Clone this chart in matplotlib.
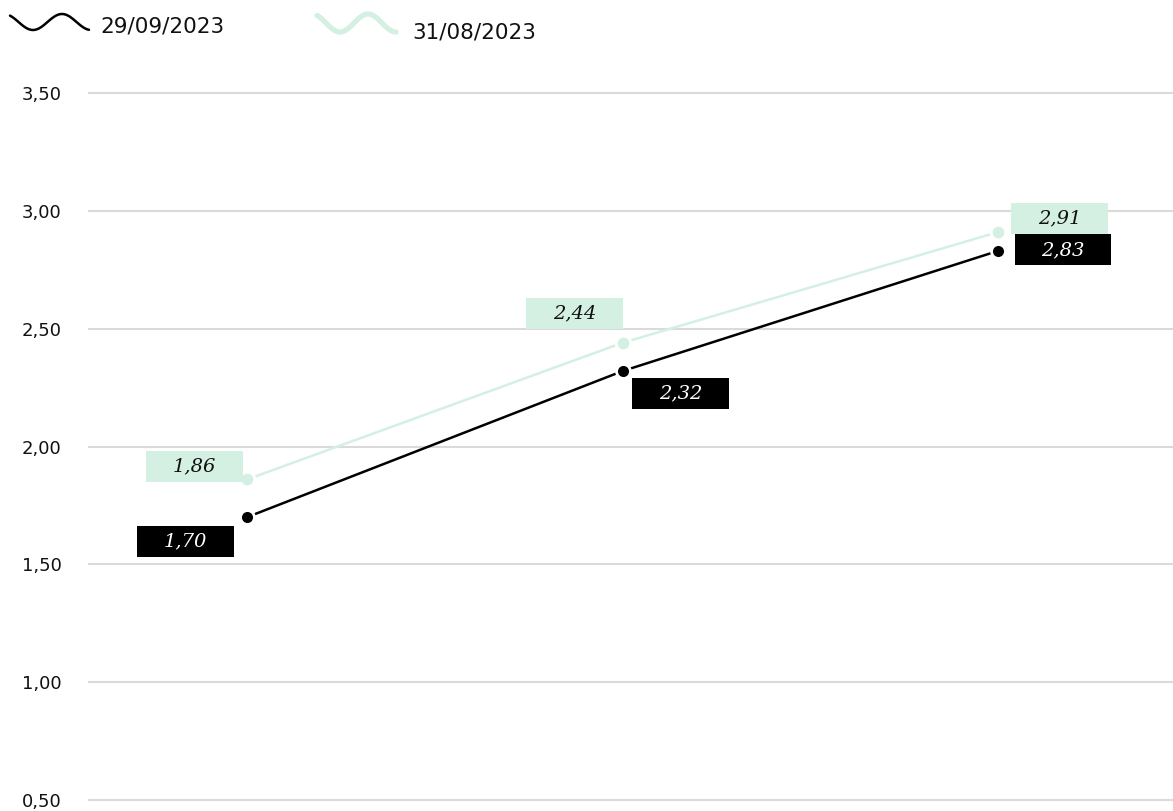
import numpy as np
import matplotlib
matplotlib.use("Agg")
import matplotlib.pyplot as plt
from matplotlib.lines import Line2D
from matplotlib.patches import Rectangle
from matplotlib.text import Text
from matplotlib.offsetbox import AnnotationBbox, DrawingArea

# data
categories = [0, 1, 2]
series_names = ["29/09/2023", "31/08/2023"]
values_sep = [1.70, 2.32, 2.83]
values_aug = [1.86, 2.44, 2.91]
labels_sep = ["1,70", "2,32", "2,83"]
labels_aug = ["1,86", "2,44", "2,91"]
y_ticks = [0.5, 1.0, 1.5, 2.0, 2.5, 3.0, 3.5]
y_tick_labels = ["0,50", "1,00", "1,50", "2,00", "2,50", "3,00", "3,50"]

black = "#000000"
mint = "#d4f0e2"
W, H = 1173, 811

fig = plt.figure(figsize=(W / 100, H / 100), dpi=100)
ax = fig.add_axes([88 / W, (H - 804.7) / H, 1 - 88 / W, (804.7 - 88.3) / H])

ax.set_ylim(0.48, 3.52)
ax.set_xlim(-0.4234, 2.466)
ax.set_yticks(y_ticks)
ax.set_yticklabels(y_tick_labels, fontsize=13, family="DejaVu Sans", color="#111111")
ax.set_xticks([])
ax.tick_params(axis="y", length=0, pad=19)
for s in ax.spines.values():
    s.set_visible(False)
for y in y_ticks:
    ax.axhline(y, color="#dadada", lw=1.5, zorder=0)

ax.plot(categories, values_aug, color=mint, lw=1.8, marker="o", ms=10.5,
        mfc=mint, mec="white", mew=2, zorder=2)
ax.plot(categories, values_sep, color=black, lw=1.8, marker="o", ms=10,
        mfc=black, mec="white", mew=2, zorder=3)

# value boxes, offsets in points from the marker
box_w, box_h = 69.8, 22.3
offs_sep = [(-44.3, -17.6), (41.8, -16.2), (46.8, 0.7)]
offs_aug = [(-37.8, 9.7), (-34.6, 20.9), (44.3, 9.7)]


def value_box(x, y, txt, off, fc, tc):
    da = DrawingArea(box_w, box_h, 0, 0, clip=False)
    da.add_artist(Rectangle((0, 0), box_w, box_h, fc=fc, ec="none"))
    da.add_artist(Text(box_w / 2, box_h / 2, txt, ha="center", va="center",
                       color=tc, fontsize=14, fontstyle="italic", family="DejaVu Serif"))
    ab = AnnotationBbox(da, (x, y), xybox=off, boxcoords="offset points",
                        frameon=False, pad=0, box_alignment=(0.5, 0.5), zorder=4)
    ax.add_artist(ab)


for x, v, t, o in zip(categories, values_aug, labels_aug, offs_aug):
    value_box(x, v, t, o, mint, "#111111")
for x, v, t, o in zip(categories, values_sep, labels_sep, offs_sep):
    value_box(x, v, t, o, black, "white")

# legend with wavy icons
def wave(x0, x1, yc, amp, trough, period, color, lw):
    xs = np.linspace(x0, x1, 80)
    ys = yc + amp * np.cos(2 * np.pi * (xs - trough) / period)
    fig.add_artist(Line2D(xs / W, 1 - ys / H, color=color, lw=lw,
                          solid_capstyle="round", transform=fig.transFigure))


wave(10, 89, 22, 8, 33, 58, black, 1.8)
wave(317, 396, 23, 9, 340, 56, mint, 3.8)
fig.text(100 / W, 1 - 26 / H, series_names[0], fontsize=15.5, va="center",
         ha="left", family="DejaVu Sans", color="#111111")
fig.text(412 / W, 1 - 32 / H, series_names[1], fontsize=15.5, va="center",
         ha="left", family="DejaVu Sans", color="#111111")

fig.savefig("out.png", dpi=100)
